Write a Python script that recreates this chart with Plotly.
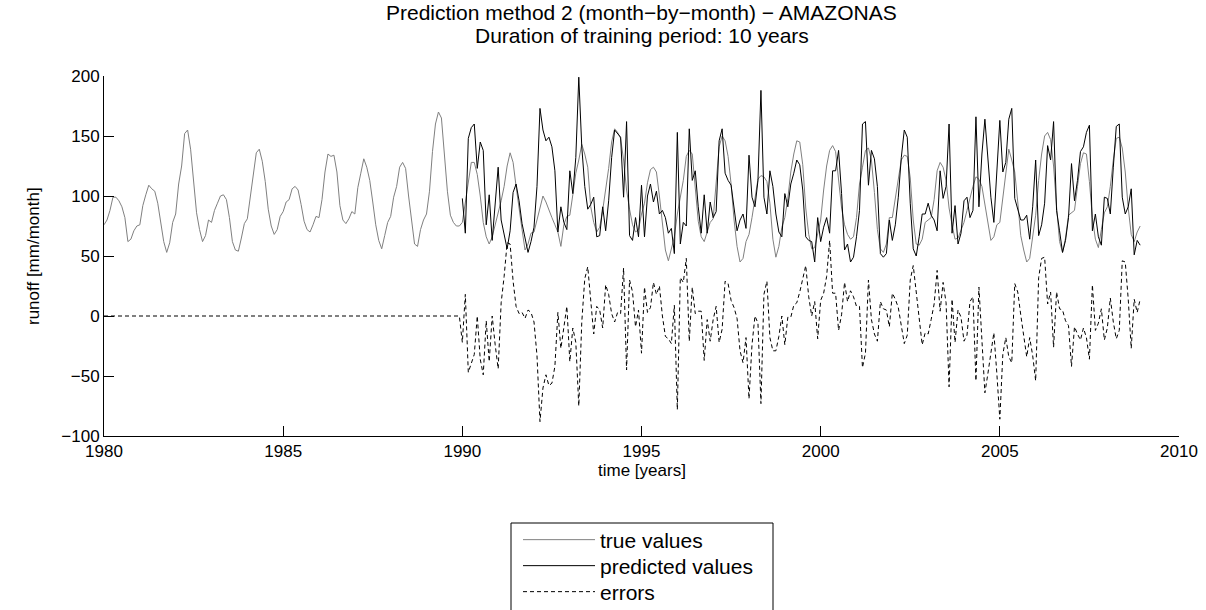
import plotly.graph_objects as go

start_year = 1980
prediction_start = 120  # index of Jan 1990

# Monthly true runoff (mm/month), Jan 1980 .. Dec 2008
true_values = [
    76, 80, 88, 99, 99, 96, 91, 82, 62, 64, 71, 75,
    76, 92, 101, 109, 106, 104, 94, 78, 62, 53, 61, 78,
    85, 110, 125, 152, 155, 139, 114, 86, 72, 62, 67, 80,
    78, 88, 94, 100, 101, 97, 82, 62, 55, 54, 65, 77,
    81, 100, 116, 136, 139, 129, 112, 89, 75, 68, 72, 83,
    87, 95, 97, 106, 108, 105, 93, 79, 72, 70, 76, 83,
    82, 97, 120, 135, 133, 134, 120, 92, 80, 77, 81, 87,
    85, 107, 119, 131, 124, 113, 95, 76, 63, 56, 67, 78,
    83, 99, 108, 124, 128, 123, 100, 80, 60, 58, 72, 80,
    85, 104, 137, 160, 170, 165, 132, 104, 84, 78, 75, 75,
    78, 95, 108, 128, 128, 118, 100, 78, 66, 60, 66, 76,
    85, 96, 108, 125, 136, 128, 108, 88, 72, 55, 60, 69,
    70, 80, 90, 100, 95, 88, 82, 76, 70, 58, 76, 83,
    84, 101, 119, 130, 143, 135, 124, 91, 78, 70, 74, 88,
    105, 123, 145, 156, 153, 148, 130, 105, 89, 76, 70, 72,
    85, 94, 111, 122, 124, 120, 100, 75, 55, 46, 55, 66,
    85, 98, 113, 133, 138, 135, 110, 79, 66, 62, 70, 78,
    81, 108, 141, 150, 146, 133, 110, 80, 58, 45, 48, 62,
    68, 82, 100, 114, 117, 116, 112, 94, 64, 49, 58, 74,
    82, 98, 120, 135, 146, 145, 126, 90, 68, 56, 57, 70,
    80, 105, 125, 138, 142, 137, 115, 90, 76, 68, 64, 66,
    82, 110, 124, 138, 140, 130, 103, 72, 56, 53, 60, 82,
    82, 97, 115, 130, 134, 133, 115, 80, 60, 59, 64, 78,
    80, 82, 97, 121, 128, 124, 113, 90, 76, 64, 65, 72,
    78, 88, 99, 108, 116, 114, 108, 93, 75, 63, 66, 76,
    78, 98, 122, 139, 130, 120, 95, 67, 55, 45, 48, 68,
    84, 113, 135, 150, 153, 147, 125, 91, 62, 53, 65, 84,
    86, 88, 108, 127, 136, 135, 112, 82, 64, 57, 72, 86,
    91, 108, 130, 148, 149, 140, 120, 90, 68, 62, 70, 75,
]

# Monthly predicted runoff, Jan 1990 .. Dec 2008
predicted_values = [
    98, 69, 148, 157, 160, 123, 145, 138, 76, 101, 63, 95,
    124, 80, 69, 56, 71, 103, 110, 96, 77, 65, 53, 62,
    74, 108, 173, 155, 146, 149, 141, 121, 70, 91, 78, 72,
    121, 102, 132, 199, 141, 108, 89, 93, 99, 66, 67, 91,
    71, 96, 132, 155, 152, 149, 99, 162, 67, 63, 82, 66,
    109, 66, 100, 110, 95, 104, 85, 88, 82, 69, 73, 52,
    153, 60, 78, 75, 156, 113, 121, 91, 69, 101, 69, 95,
    82, 87, 146, 156, 119, 113, 109, 88, 71, 80, 85, 73,
    134, 99, 91, 113, 188, 99, 85, 121, 108, 85, 70, 66,
    102, 91, 110, 119, 130, 126, 105, 66, 63, 62, 45, 82,
    62, 74, 82, 69, 121, 121, 138, 102, 55, 60, 45, 49,
    66, 88, 160, 162, 109, 138, 131, 108, 52, 49, 52, 80,
    63, 76, 99, 132, 155, 149, 94, 56, 50, 66, 85, 85,
    94, 84, 80, 71, 121, 98, 108, 160, 69, 92, 60, 69,
    96, 99, 82, 88, 166, 91, 135, 164, 132, 99, 78, 119,
    163, 120, 128, 164, 173, 98, 88, 80, 80, 84, 64, 91,
    130, 67, 76, 94, 142, 130, 162, 88, 71, 53, 63, 82,
    127, 96, 113, 137, 141, 153, 159, 71, 85, 66, 59, 99,
    98, 85, 124, 158, 160, 99, 85, 91, 106, 51, 63, 59,
]

# Errors during the training period (flat at zero), Jan 1980 .. Dec 1989
errors_training = [0] * 120

# Errors during the prediction period, Jan 1990 .. Dec 2008
errors_prediction = [
    -22, 18, -47, -39, -32, 0, -36, -49, -4, -38, 0, -24,
    -44, 11, 33, 61, 60, 29, 8, 2, 3, -2, 5, 3,
    -5, -33, -88, -60, -49, -58, -56, -42, 3, -27, -11, 8,
    -38, -10, -22, -75, -5, 31, 41, 15, -15, 8, 5, -10,
    26, 18, 2, -5, 3, 2, 40, -45, 30, 20, -9, 5,
    -31, 24, 3, 7, 28, 18, 25, 0, -17, -19, -23, 9,
    -78, 32, 28, 48, -21, 24, 2, 4, 4, -37, -3, -21,
    -3, 8, -22, -11, 29, 27, 13, 7, -2, -29, -39, -18,
    -69, -24, 0, -6, -73, 18, 29, -18, -29, -29, -17, 0,
    -24, -1, -1, 9, 11, 20, 31, 42, 16, 0, 12, -19,
    13, 19, 33, 63, 19, 19, -12, 1, 28, 12, 21, 16,
    8, 8, -43, -31, 30, -3, -15, -21, 12, 6, 5, -9,
    19, 14, 7, -10, -23, -16, 30, 42, 20, -7, -24, -14,
    -15, -3, 10, 38, 4, 28, 11, -59, 14, -22, 5, -1,
    -21, -16, 12, 16, -54, 24, -24, -64, -48, -30, -14, -48,
    -86, -32, -18, -34, -39, 27, 20, 1, -19, -34, -18, -33,
    -54, 32, 48, 49, 10, 20, -26, 20, 6, 5, -4, -8,
    -42, -9, -15, -20, -10, -18, -36, 26, -12, -6, 6, -20,
    -10, 15, -5, -19, -12, 46, 45, 14, -27, 14, 3, 14,
]

x_ticks = [1980, 1985, 1990, 1995, 2000, 2005, 2010]
y_ticks = [-100, -50, 0, 50, 100, 150, 200]
series_names = ["true values", "predicted values", "errors"]
title_lines = ["Prediction method 2 (month\u2212by\u2212month) \u2212 AMAZONAS",
               "Duration of training period: 10 years"]

months = [start_year + k / 12 for k in range(len(true_values))]
pred_months = months[prediction_start:prediction_start + len(predicted_values)]
errors = errors_training + errors_prediction

FONT = "Liberation Sans, Arial, Helvetica, sans-serif"
W, H = 1206, 610
ML, MR, MT, MB = 104, 27, 76, 174
PW, PH = W - ML - MR, H - MT - MB
TICK_SIZE = 17
LABEL_SIZE = 17
TITLE_SIZE = 21
LEGEND_SIZE = 21


def px_x(x):
    return (x - ML) / PW


def px_y(y):
    return (MT + PH - y) / PH


fig = go.Figure()
fig.add_trace(go.Scatter(x=months, y=true_values, mode="lines", name=series_names[0],
                         line=dict(color="#808080", width=1), legend="legend"))
fig.add_trace(go.Scatter(x=pred_months, y=predicted_values, mode="lines", name=series_names[1],
                         line=dict(color="#000000", width=1), legend="legend2"))
fig.add_trace(go.Scatter(x=months[:len(errors)], y=errors, mode="lines", name=series_names[2],
                         line=dict(color="#000000", width=1, dash="4px,3px"), legend="legend3"))

axis_common = dict(showgrid=False, zeroline=False, showline=True, linecolor="#000000",
                   linewidth=1, ticks="inside", ticklen=10, tickwidth=1, tickcolor="#000000",
                   tickfont=dict(family=FONT, size=TICK_SIZE, color="#000000"), mirror=False,
                   automargin=False)


def legend_at(y_px):
    return dict(xref="container", yref="container",
                x=518 / W, y=1 - y_px / H, xanchor="left", yanchor="middle",
                bgcolor="rgba(0,0,0,0)", borderwidth=0, itemwidth=72,
                font=dict(family=FONT, size=LEGEND_SIZE, color="#000000"))


fig.update_layout(
    width=W, height=H,
    autosize=False,
    margin=dict(l=ML, r=MR, t=MT, b=MB, pad=0, autoexpand=False),
    paper_bgcolor="white", plot_bgcolor="white",
    font=dict(family=FONT, size=LABEL_SIZE, color="#000000"),
    xaxis=dict(range=[1980, 2010], tickvals=x_ticks, **axis_common),
    yaxis=dict(range=[-100, 200], tickvals=y_ticks, **axis_common),
    showlegend=True,
    legend=legend_at(540),
    legend2=legend_at(566),
    legend3=legend_at(592),
    shapes=[dict(type="rect", xref="paper", yref="paper",
                 x0=px_x(511), x1=px_x(773), y0=px_y(523), y1=px_y(630),
                 line=dict(color="#000000", width=1), fillcolor="rgba(0,0,0,0)")],
    annotations=[
        dict(text=title_lines[0], x=0.5, y=px_y(13), xref="paper", yref="paper",
             showarrow=False, xanchor="center", yanchor="middle",
             font=dict(size=TITLE_SIZE)),
        dict(text=title_lines[1], x=0.5, y=px_y(36), xref="paper", yref="paper",
             showarrow=False, xanchor="center", yanchor="middle",
             font=dict(size=TITLE_SIZE)),
        dict(text="time [years]", x=0.5, y=px_y(470), xref="paper", yref="paper",
             showarrow=False, xanchor="center", yanchor="middle",
             font=dict(size=LABEL_SIZE)),
        dict(text="runoff [mm/month]", x=px_x(33), y=px_y(256), xref="paper", yref="paper",
             showarrow=False, xanchor="center", yanchor="middle", textangle=-90,
             font=dict(size=LABEL_SIZE)),
    ],
)

fig.write_html("out.html")
